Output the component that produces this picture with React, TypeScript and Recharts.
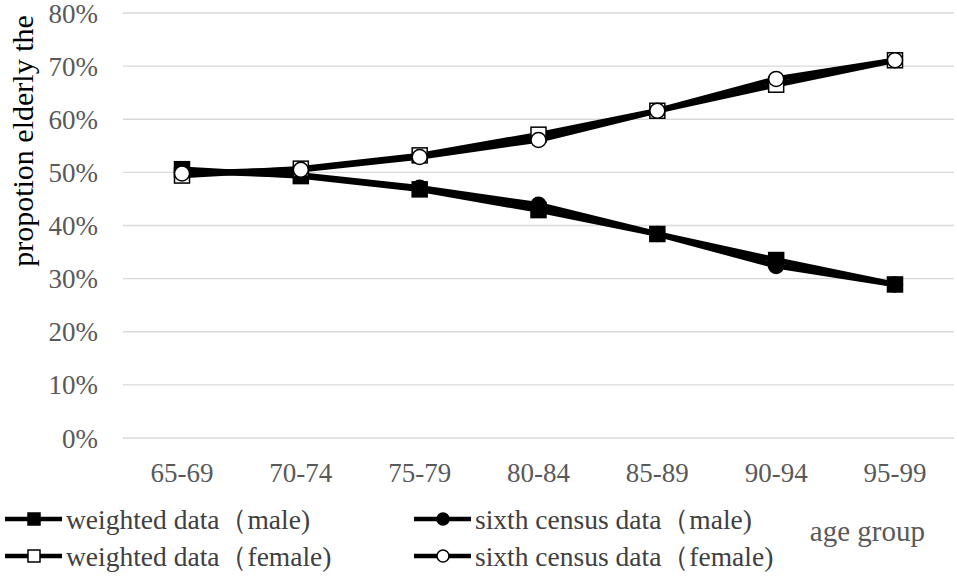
import React from "react";
import {
  LineChart,
  Line,
  XAxis,
  YAxis,
  CartesianGrid,
  Legend,
} from "recharts";

const ageGroups = ["65-69", "70-74", "75-79", "80-84", "85-89", "90-94", "95-99"];

const weightedMale = [50.6, 49.3, 46.8, 42.9, 38.4, 33.5, 28.9];
const censusMale = [50.2, 49.5, 47.1, 43.9, 38.4, 32.4, 28.9];
const weightedFemale = [49.4, 50.7, 53.2, 57.1, 61.6, 66.5, 71.1];
const censusFemale = [49.8, 50.5, 52.9, 56.1, 61.6, 67.6, 71.1];

const yTicks = [0, 10, 20, 30, 40, 50, 60, 70, 80];

const SERIES = [
  { key: "weightedMale", name: "weighted data（male)", shape: "square", filled: true },
  { key: "censusMale", name: "sixth census data（male)", shape: "circle", filled: true },
  { key: "weightedFemale", name: "weighted data（female)", shape: "square", filled: false },
  { key: "censusFemale", name: "sixth census data（female)", shape: "circle", filled: false },
];

const FONT = "Liberation Serif";

const data = ageGroups.map((age, i) => ({
  age,
  weightedMale: weightedMale[i],
  censusMale: censusMale[i],
  weightedFemale: weightedFemale[i],
  censusFemale: censusFemale[i],
}));

function Marker({ cx, cy, shape, filled, size }: any) {
  const fill = filled ? "#000" : "#fff";
  if (shape === "square") {
    return (
      <rect
        x={cx - size / 2}
        y={cy - size / 2}
        width={size}
        height={size}
        fill={fill}
        stroke="#000"
        strokeWidth={1.5}
      />
    );
  }
  return <circle cx={cx} cy={cy} r={size / 2} fill={fill} stroke="#000" strokeWidth={1.5} />;
}

const makeDot = (shape: string, filled: boolean) => (props: any) => {
  const { cx, cy, index } = props;
  if (cx == null || cy == null) return <g key={index} />;
  return (
    <g key={`dot-${index}`}>
      <Marker cx={cx} cy={cy} shape={shape} filled={filled} size={15} />
    </g>
  );
};

// legend: two columns, two rows
const LEGEND_POS = [
  { x: 5, y: 24 },
  { x: 414, y: 24 },
  { x: 5, y: 61 },
  { x: 414, y: 61 },
];

const renderLegend = () => (
  <svg width={957} height={83} style={{ display: "block" }}>
    {SERIES.map((s, i) => {
      const p = LEGEND_POS[i];
      return (
        <g key={s.key}>
          <line x1={p.x} y1={p.y} x2={p.x + 57} y2={p.y} stroke="#000" strokeWidth={4.5} />
          <Marker cx={p.x + 29} cy={p.y} shape={s.shape} filled={s.filled} size={12} />
          <text
            x={p.x + 61}
            y={p.y}
            dominantBaseline="central"
            style={{ fontFamily: FONT }}
            fontSize={27.5}
            fill="#404040"
          >
            {s.name}
          </text>
        </g>
      );
    })}
  </svg>
);

export default function App() {
  return (
    <div style={{ position: "absolute", left: 0, top: 0, background: "#fff", fontFamily: FONT }}>
      <LineChart
        width={957}
        height={578}
        data={data}
        margin={{ top: 13, right: 3, left: 0, bottom: 100 }}
        style={{ fontFamily: FONT }}
      >
        <CartesianGrid vertical={false} stroke="#d9d9d9" strokeWidth={1.3} />
        <XAxis
          dataKey="age"
          height={40}
          padding={{ left: 59, right: 59 }}
          axisLine={false}
          tickLine={false}
          tickMargin={19}
          tick={{ fontFamily: FONT, fontSize: 27, fill: "#595959" }}
          label={{
            content: ({ viewBox }: any) => (
              <text
                x={viewBox.x + viewBox.width - 29}
                y={viewBox.y + 103}
                textAnchor="end"
                style={{ fontFamily: FONT }}
                fontSize={29}
                fill="#595959"
              >
                age group
              </text>
            ),
          }}
        />
        <YAxis
          width={123}
          domain={[0, 80]}
          ticks={yTicks}
          interval={0}
          axisLine={false}
          tickLine={false}
          tickMargin={19}
          tickFormatter={(v: number) => `${v}%`}
          tick={{ fontFamily: FONT, fontSize: 27, fill: "#595959" }}
          label={{
            content: () => (
              <text
                x={22}
                y={141}
                transform="rotate(-90 22 141)"
                textAnchor="middle"
                dominantBaseline="central"
                style={{ fontFamily: FONT }}
                fontSize={30}
                fill="#000"
              >
                propotion elderly the
              </text>
            ),
          }}
        />
        {SERIES.map((s) => (
          <Line
            key={s.key}
            type="linear"
            dataKey={s.key}
            name={s.name}
            stroke="#000"
            strokeWidth={5.5}
            dot={makeDot(s.shape, s.filled)}
            activeDot={false}
            isAnimationActive={false}
          />
        ))}
        <Legend
          layout="horizontal"
          verticalAlign="middle"
          align="center"
          content={renderLegend}
          wrapperStyle={{ top: 495, left: 0, width: 957, height: 83 }}
        />
      </LineChart>
    </div>
  );
}
